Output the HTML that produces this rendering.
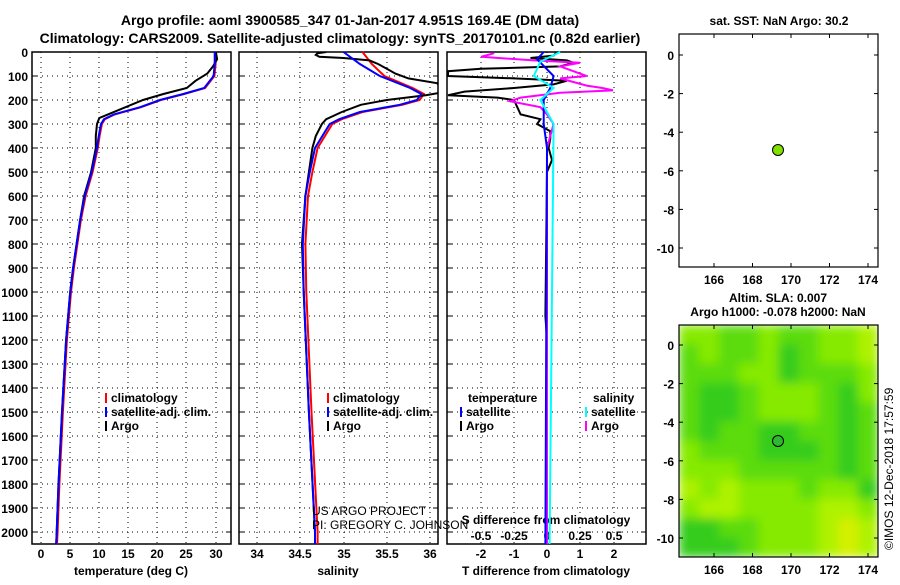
<!DOCTYPE html>
<html><head><meta charset="utf-8"><style>
body{margin:0;background:#fff;width:900px;height:580px;overflow:hidden}
svg{font-family:"Liberation Sans",sans-serif;font-weight:bold}
</style></head><body>
<svg id="s" width="900" height="580" xmlns="http://www.w3.org/2000/svg">
<defs>
<filter id="bl" x="0" y="0" width="1" height="1"><feGaussianBlur stdDeviation="5" edgeMode="duplicate"/></filter>
<clipPath id="c1"><rect x="447" y="52" width="199" height="492"/></clipPath>
<clipPath id="c2"><rect x="239" y="52" width="199" height="492"/></clipPath>
</defs>
<text x="350" y="25" font-size="14" text-anchor="middle">Argo profile: aoml 3900585_347 01-Jan-2017 4.951S 169.4E (DM data)</text>
<text x="340" y="43" font-size="14" text-anchor="middle">Climatology: CARS2009. Satellite-adjusted climatology: synTS_20170101.nc (0.82d earlier)</text>
</svg>
<script>
const s=document.getElementById('s');const NS='http://www.w3.org/2000/svg';
function el(t,a,txt,par){const e=document.createElementNS(NS,t);for(const k in a)e.setAttribute(k,a[k]);if(txt!==undefined&&txt!==null)e.textContent=txt;(par||s).appendChild(e);return e;}
const Y0=52,YB=544;const dy=d=>Y0+0.24*d;
const panels=[[32,231],[239,438],[447,646]];
panels.forEach((p,i)=>{
  for(let d=100;d<=2000;d+=100)el('line',{x1:p[0],x2:p[1],y1:dy(d),y2:dy(d),stroke:'#000','stroke-dasharray':'1,4','stroke-width':1});
});
const tx=[[41,70,99,128,157,186,216],[257,300,344,387,430],[481,514,547,580,614]];
tx.forEach((xs,i)=>xs.forEach(x=>el('line',{x1:x,x2:x,y1:Y0,y2:YB,stroke:'#000','stroke-dasharray':'1,4'})));
panels.forEach(p=>el('rect',{x:p[0],y:Y0,width:p[1]-p[0],height:YB-Y0,fill:'none',stroke:'#000','stroke-width':1.5}));
for(let d=0;d<=2000;d+=100){el('text',{x:28,y:dy(d)+5,'font-size':12,'text-anchor':'end'},d);
 panels.forEach(p=>{el('line',{x1:p[0],x2:p[0]+5,y1:dy(d),y2:dy(d),stroke:'#000'});el('line',{x1:p[1]-5,x2:p[1],y1:dy(d),y2:dy(d),stroke:'#000'});});}
const lab=[[[41,'0'],[70,'5'],[99,'10'],[128,'15'],[157,'20'],[186,'25'],[216,'30']],[[257,'34'],[300,'34.5'],[344,'35'],[387,'35.5'],[430,'36']],[[481,'-2'],[514,'-1'],[547,'0'],[580,'1'],[614,'2']]];
lab.forEach(l=>l.forEach(([x,t])=>el('text',{x:x,y:558,'font-size':12,'text-anchor':'middle'},t)));
el('text',{x:131,y:575,'font-size':12,'text-anchor':'middle'},'temperature (deg C)');
el('text',{x:338,y:575,'font-size':12,'text-anchor':'middle'},'salinity');
el('text',{x:546,y:575,'font-size':12,'text-anchor':'middle'},'T difference from climatology');
el('text',{x:546,y:524,'font-size':12,'text-anchor':'middle'},'S difference from climatology');
[[481,'-0.5'],[514,'-0.25'],[547,'0'],[580,'0.25'],[614,'0.5']].forEach(([x,t])=>el('text',{x:x,y:540,'font-size':12,'text-anchor':'middle'},t));
function pl(pts,fx,col,w,clip){const a={points:pts.map(([d,v])=>fx(v).toFixed(1)+','+dy(d).toFixed(1)).join(' '),fill:'none',stroke:col,'stroke-width':w||2};if(clip)a['clip-path']='url(#'+clip+')';el('polyline',a);}
const T=[[0,29.8],[50,29.8],[100,29.6],[150,28],[175,24.4],[200,20.4],[230,17],[260,12.5],[280,10.8],[300,10.3],[350,9.9],[400,9.6],[500,8.7],[600,7.5],[700,6.7],[800,6.1],[900,5.5],[1000,5.0],[1200,4.3],[1500,3.6],[1800,3.0],[2000,2.7],[2050,2.6]];
const fT=v=>41+5.83*v;
const TA=[[0,30],[30,30.2],[60,29.5],[90,28.5],[120,26.5],[150,25],[175,21],[200,17.5],[230,14.5],[260,11.5],[275,10],[300,9.6],[350,9.4],[400,9.4],[500,8.6],[600,7.4],[700,6.7],[800,6.1],[900,5.5],[1000,5.0],[1200,4.3],[1500,3.6],[1800,3.0],[2000,2.7],[2050,2.6]];
pl(T.map(([d,v])=>[d,v+0.15]),fT,'#f00');pl(TA,fT,'#000');pl(T,fT,'#00f');
const S=[[0,35.0],[50,35.19],[100,35.42],[150,35.77],[175,35.9],[200,35.85],[220,35.65],[250,35.19],[280,34.95],[300,34.84],[400,34.67],[500,34.61],[600,34.56],[800,34.53],[1000,34.54],[1500,34.6],[2000,34.67],[2050,34.67]];
const fS=v=>257+86.5*(v-34);
const SA=[[0,34.8],[5,34.7],[12,34.68],[20,34.72],[25,35.0],[35,35.3],[50,35.4],[70,35.5],[90,35.6],[110,35.75],[130,36.08],[150,36.15],[165,36.2],[180,35.95],[200,35.5],[220,35.2],[250,34.98],[280,34.8],[300,34.75],[350,34.68],[400,34.64],[500,34.6],[600,34.56],[800,34.52],[1000,34.54],[1500,34.6],[2000,34.67],[2050,34.67]];
pl(S.map(([d,v])=>[d,d<120?v+0.2*(1-d/120)+0.02:v+0.03]),fS,'#f00');pl(SA,fS,'#000',2,'c2');pl(S,fS,'#00f');
const fD=v=>547+33*v, fDS=v=>547+132*v;
pl([[0,0.3],[15,0.2],[25,-0.5],[35,0.6],[45,0.8],[60,0.4],[70,-2],[80,-3],[100,-3],[110,-1],[120,0.6],[135,0.2],[150,-1],[165,-2.5],[180,-3],[190,-1.5],[200,-1],[230,-0.9],[260,-0.8],[280,-0.2],[300,-0.3],[330,0.1],[360,0.1],[400,0.05],[450,0.15],[500,0],[1100,-0.05],[1200,0],[2050,0]],fD,'#000',2,'c1');
pl([[5,-0.4],[20,-0.5],[35,-0.1],[45,0.25],[60,0.1],[80,0.2],[100,0.3],[110,0.1],[125,0.2],[140,0.3],[150,0.42],[160,0.5],[170,0.1],[190,-0.2],[205,-0.28],[230,-0.05],[260,0],[300,0.05],[400,0],[2050,0]],fDS,'#f0f');
pl([[0,-0.1],[30,-0.3],[100,0.2],[150,0.1],[200,-0.1],[300,-0.1],[400,0],[2050,-0.05]],fD,'#00f');
pl([[0,0.1],[40,-0.05],[100,-0.1],[150,0.05],[200,-0.05],[300,0.05],[2050,0.02]],fDS,'#0ff');
function leg(x,y,col,t){el('rect',{x:x,y:y-9,width:2,height:10,fill:col});el('text',{x:x+6,y:y,'font-size':12},t);}
leg(105,402,'#f00','climatology');leg(105,416,'#00f','satellite-adj. clim.');leg(105,430,'#000','Argo');
leg(327,402,'#f00','climatology');leg(327,416,'#00f','satellite-adj. clim.');leg(327,430,'#000','Argo');
el('text',{x:468,y:402,'font-size':12},'temperature');leg(460,416,'#00f','satellite');leg(460,430,'#000','Argo');
el('text',{x:593,y:402,'font-size':12},'salinity');leg(585,416,'#0ff','satellite');leg(585,430,'#f0f','Argo');
el('text',{x:312,y:515,'font-size':12,'font-weight':'normal'},'US ARGO PROJECT');
el('text',{x:312,y:529,'font-size':12,'font-weight':'normal'},'PI: GREGORY C. JOHNSON');
function map(top,bot,lat0y,lat10y){
  const X0=679,X1=878;
  const lx=l=>714+(l-166)*19.25, ly=l=>lat0y+(-l)*(lat10y-lat0y)/10;
  el('rect',{x:X0,y:top,width:X1-X0,height:bot-top,fill:'none',stroke:'#000','stroke-width':1.2});
  [166,168,170,172,174].forEach(l=>{const x=lx(l);el('line',{x1:x,x2:x,y1:bot,y2:bot-4,stroke:'#000'});el('line',{x1:x,x2:x,y1:top,y2:top+4,stroke:'#000'});el('text',{x:x,y:bot+17,'font-size':12,'text-anchor':'middle'},l);});
  [0,-2,-4,-6,-8,-10].forEach(l=>{const y=ly(l);el('line',{x1:X0,x2:X0+4,y1:y,y2:y,stroke:'#000'});el('line',{x1:X1-4,x2:X1,y1:y,y2:y,stroke:'#000'});el('text',{x:674,y:y+5,'font-size':12,'text-anchor':'end'},l);});
}
const C={D:'#36cc1c',M:'#5cdc0c',L:'#86ea00',Y:'#aef200',Z:'#d4f000'};
const g=["LLMMLMMLLY","MLMMLDMLLY","MMMLLDMMML","MDDMLLLMDL","MDDMLLLMDM","MDMMDDMMDM","LMMMDDDMDM","LLLMMMMMDM","YLYLLLMLLD","LYYLLLLYYL","DDMMLLLYZY","DDDMLLLYZY"];
const gw=(878-679)/10, gh=(557-325)/12;
const gg=el('g',{filter:'url(#bl)'});
g.forEach((r,i)=>r.split('').forEach((c,j)=>el('rect',{x:679+j*gw,y:325+i*gh,width:gw+0.5,height:gh+0.5,fill:C[c]},null,gg)));
map(34,267,55,248);map(325,557,345,538);
el('circle',{cx:778,cy:150,r:5.5,fill:'#80e000',stroke:'#000'});
el('circle',{cx:778,cy:441,r:5.5,fill:'#30b830',stroke:'#000'});
el('text',{x:779,y:25,'font-size':12,'text-anchor':'middle'},'sat. SST: NaN Argo: 30.2');
el('text',{x:778,y:302,'font-size':12,'text-anchor':'middle'},'Altim. SLA: 0.007');
el('text',{x:778,y:316,'font-size':12,'text-anchor':'middle'},'Argo h1000: -0.078 h2000: NaN');
el('text',{x:0,y:0,'font-size':12,'font-weight':'normal',transform:'translate(893,550) rotate(-90)'},'©IMOS 12-Dec-2018 17:57:59');
</script>
</body></html>
